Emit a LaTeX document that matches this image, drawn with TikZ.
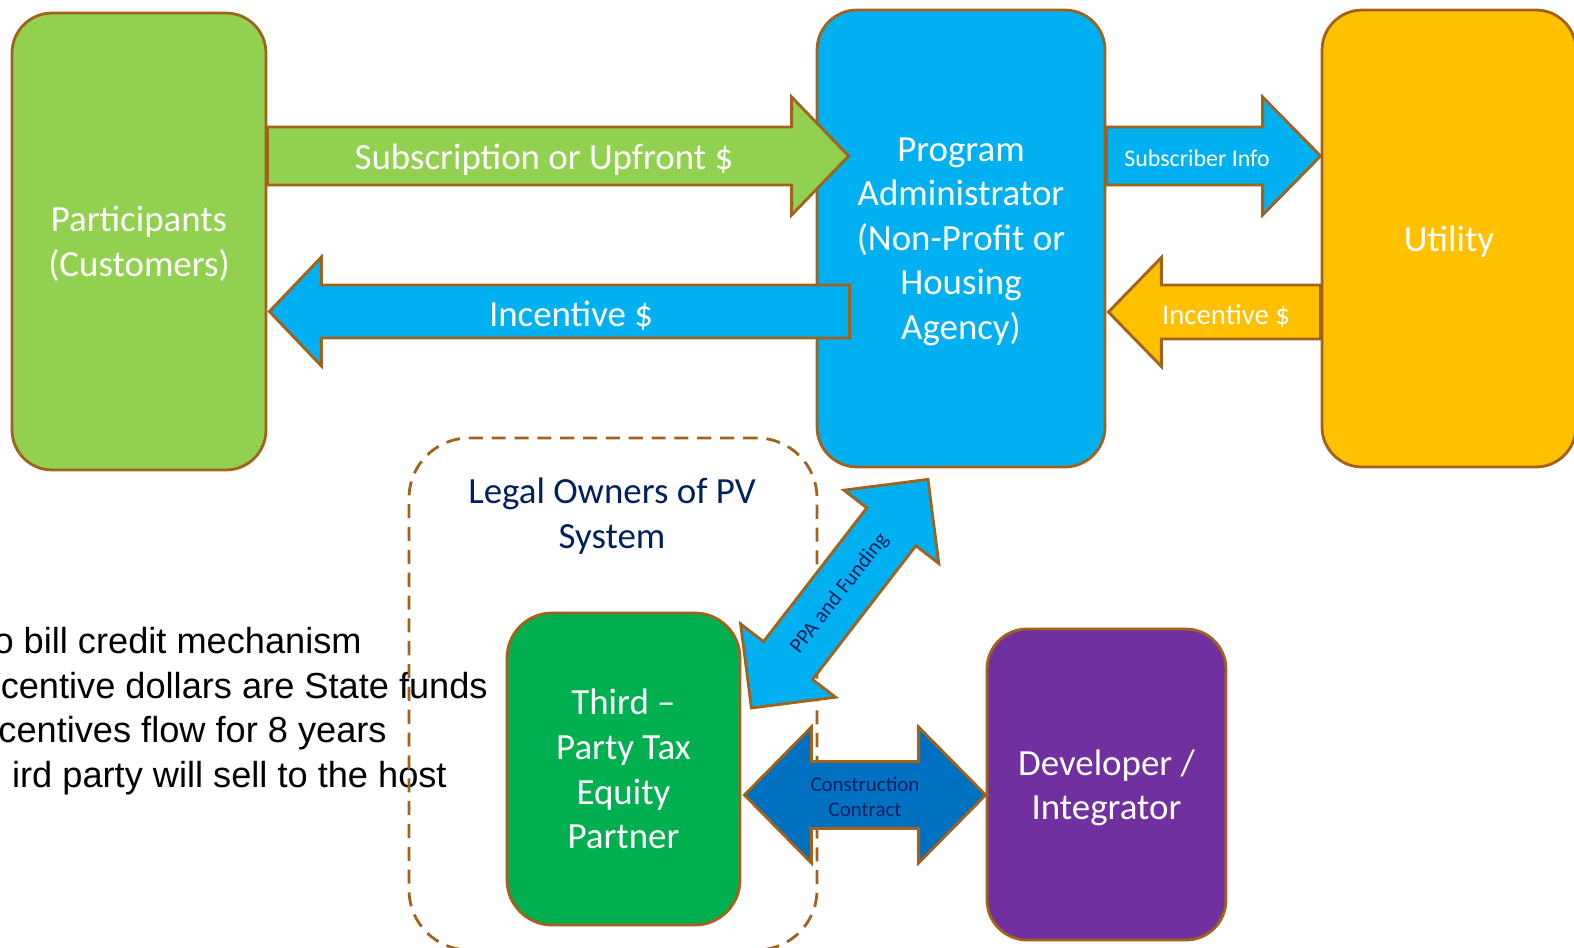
\documentclass[tikz,border=0pt]{standalone}
\usepackage{fontspec}
\setmainfont{Carlito}
\newfontfamily\arialfont{Liberation Sans}
\usetikzlibrary{calc}
\definecolor{partgreen}{HTML}{92D050}
\definecolor{adminblue}{HTML}{00B0F0}
\definecolor{utilyellow}{HTML}{FFC000}
\definecolor{ownergreen}{HTML}{00B050}
\definecolor{devpurple}{HTML}{7030A0}
\definecolor{contractblue}{HTML}{0070C0}
\definecolor{edgebrown}{HTML}{A2621C}
\definecolor{textnavy}{HTML}{002060}

\tikzset{
  party/.style={rectangle, rounded corners=0.8cm, draw=edgebrown, line width=1.6pt,
    text=white, align=center, text depth=0pt, font=\fontsize{21}{25.4}\selectfont},
  flow/.style={draw=edgebrown, line width=1.6pt},
  flowlabel/.style={text=white, font=\fontsize{21}{25}\selectfont},
  ownersbox/.style={rectangle, rounded corners=1.2cm, draw=edgebrown, line width=1.6pt,
    dash pattern=on 8pt off 5pt},
  notes/.style={anchor=base east, inner sep=0pt, font=\arialfont\fontsize{20.6}{25}\selectfont},
}

% one-way block arrow: style, tail, tip, shaft half, head half, head length
\newcommand{\flowarrow}[6]{%
  \coordinate (fa-h) at ($(#3)!#6!(#2)$);
  \draw[flow,#1] ($(#2)!#4!90:(#3)$) -- ($(fa-h)!#4!-90:(#2)$) -- ($(fa-h)!#5!-90:(#2)$)
    -- (#3) -- ($(fa-h)!#5!90:(#2)$) -- ($(fa-h)!#4!90:(#2)$) -- ($(#2)!#4!-90:(#3)$) -- cycle;}
% two-way block arrow: style, tip, tip, shaft half, head half, head length
\newcommand{\twowayarrow}[6]{%
  \coordinate (ta-h1) at ($(#2)!#6!(#3)$);
  \coordinate (ta-h2) at ($(#3)!#6!(#2)$);
  \draw[flow,#1] (#2) -- ($(ta-h1)!#5!90:(#3)$) -- ($(ta-h1)!#4!90:(#3)$)
    -- ($(ta-h2)!#4!-90:(#2)$) -- ($(ta-h2)!#5!-90:(#2)$) -- (#3)
    -- ($(ta-h2)!#5!90:(#2)$) -- ($(ta-h2)!#4!90:(#2)$)
    -- ($(ta-h1)!#4!-90:(#3)$) -- ($(ta-h1)!#5!-90:(#3)$) -- cycle;}

\begin{document}
\begin{tikzpicture}[x=0.02cm, y=-0.02cm]
\useasboundingbox (0,0) rectangle (1574,947);

% top row
\node[party, fill=partgreen, minimum width=5.08cm, minimum height=9.14cm] (part) at (139,241.5) {Participants\\(Customers)};
\node[party, fill=adminblue, minimum width=5.76cm, minimum height=9.14cm] (admin) at (961,238.5) {Program\\Administrator\\(Non-Profit or\\Housing\\Agency)};
\node[party, fill=utilyellow, minimum width=5.08cm, minimum height=9.14cm] (util) at (1449,238.5) {Utility};

\coordinate (subA) at (part.east |- 0,156);
\coordinate (subB) at ($(admin.west |- 0,156)+(33,0)$);
\coordinate (incA) at ($(admin.west |- 0,311.5)+(34,0)$);
\coordinate (incB) at ($(part.east |- 0,311.5)+(2,0)$);
\coordinate (infoA) at (admin.east |- 0,156);
\coordinate (infoB) at (util.west |- 0,156);
\coordinate (payA) at (util.west |- 0,312);
\coordinate (payB) at ($(admin.east |- 0,312)+(2,0)$);

\flowarrow{fill=partgreen}{subA}{subB}{0.58cm}{1.18cm}{1.14cm}
\flowarrow{fill=adminblue}{incA}{incB}{0.53cm}{1.09cm}{1.04cm}
\flowarrow{fill=adminblue}{infoA}{infoB}{0.58cm}{1.18cm}{1.16cm}
\flowarrow{fill=utilyellow}{payA}{payB}{0.54cm}{1.09cm}{1.06cm}

\node[flowlabel] (sublabel) at (544,160) {Subscription or Upfront \$};
\node[flowlabel] (inclabel) at (571,316) {Incentive \$};
\node[flowlabel, font=\fontsize{13.6}{16}\selectfont] (infolabel) at (1197,158) {Subscriber Info};
\node[flowlabel, font=\fontsize{16.4}{19}\selectfont] (paylabel) at (1226,316) {Incentive \$};

% notes
\node[notes] (note1) at (362,653) {o bill credit mechanism};
\node[notes] (note2) at (488,698) {centive dollars are State funds};
\node[notes] (note3) at (387,742) {centives flow for 8 years};
\node[notes] (note4) at (447,787) {ird party will sell to the host};

% bottom row
\node[ownersbox, minimum width=8.16cm, minimum height=10.24cm] (owners) at (613,694) {};
\node[text=textnavy, align=center, font=\fontsize{21}{25.4}\selectfont] (ownerslabel) at (612,516) {Legal Owners of PV\\System};
\node[party, fill=ownergreen, rounded corners=0.9cm, minimum width=4.66cm, minimum height=6.24cm] (third) at (623.5,769) {Third –\\Party Tax\\Equity\\Partner};
\node[party, fill=devpurple, minimum width=4.78cm, minimum height=6.22cm] (dev) at (1106.5,784.5) {Developer /\\Integrator};

\coordinate (ppaA) at ($(third.east)+(10,-61)$);
\coordinate (ppaB) at ($(admin.south)+(-33,11)$);
\coordinate (conA) at ($(third.east |- 0,795)+(3,0)$);
\coordinate (conB) at (dev.west |- 0,795);

\twowayarrow{fill=adminblue}{ppaA}{ppaB}{0.62cm}{1.2cm}{1.2cm}
\twowayarrow{fill=contractblue}{conA}{conB}{0.67cm}{1.36cm}{1.34cm}

\node[rotate=52, text=textnavy, font=\fontsize{12.2}{14}\selectfont] (ppalabel) at ($(ppaA)!0.5!(ppaB)$) {PPA and Funding};
\node[text=textnavy, align=center, font=\fontsize{11.9}{14.2}\selectfont] (conlabel) at ($(conA)!0.5!(conB)+(0,2)$) {Construction\\Contract};
\end{tikzpicture}
\end{document}
